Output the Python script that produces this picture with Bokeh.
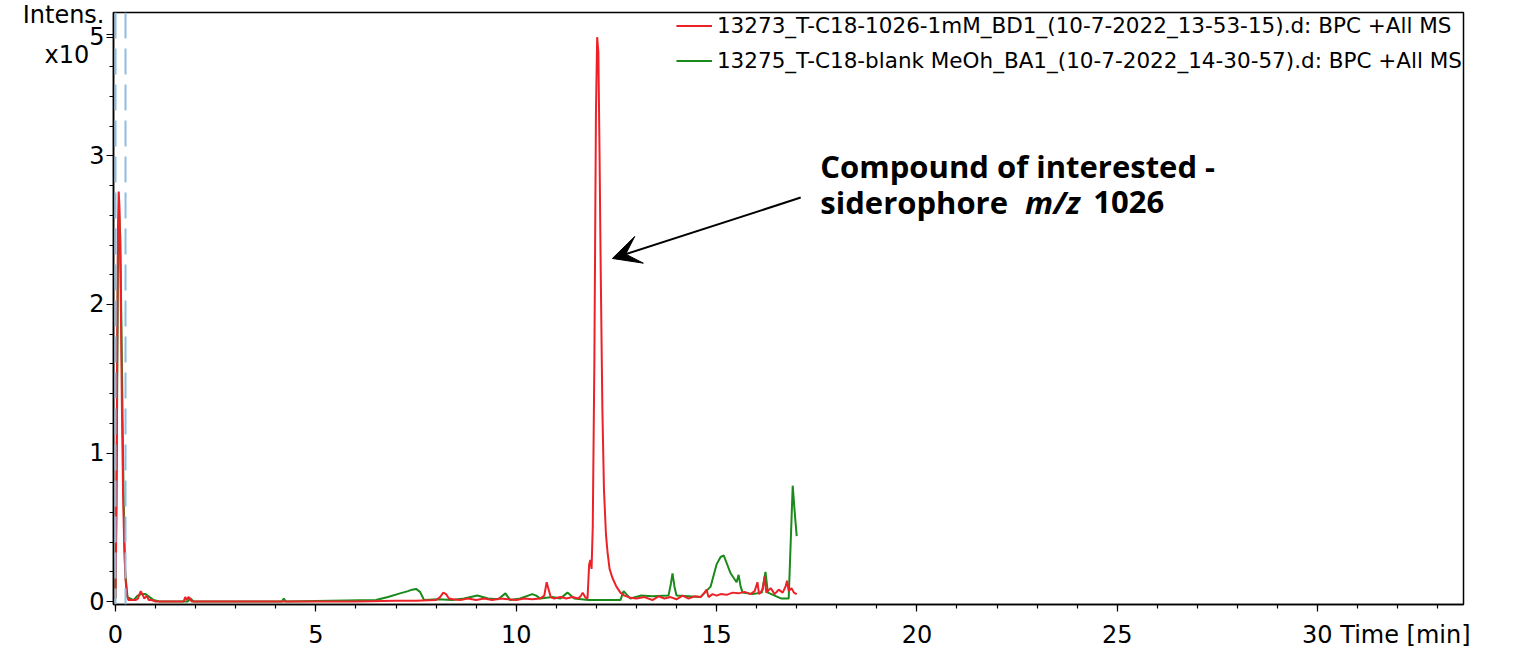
from bokeh.plotting import figure
from bokeh.models import (SingleIntervalTicker, FixedTicker, Label, Arrow, VeeHead, Span)
from bokeh.embed import file_html
from bokeh.resources import INLINE

# ---------------- data (intensity in units of 1e5) ----------------
red_time = [0.00, 0.02, 0.04, 0.06, 0.08, 0.10, 0.13, 0.16, 0.19, 0.22, 0.25, 0.28,
            0.32, 0.40, 0.50, 0.56, 0.60, 0.63, 0.67, 0.72, 0.78, 0.83, 0.90, 1.00,
            1.20, 1.50, 1.70, 1.74, 1.78, 1.82, 1.86, 1.90, 2.00, 3.00, 4.00, 5.00,
            6.00, 7.00, 7.50, 8.00, 8.10, 8.18, 8.25, 8.32, 8.42, 8.60, 8.80, 9.00,
            9.20, 9.40, 9.60, 9.80, 10.00, 10.20, 10.40, 10.60, 10.70, 10.76, 10.80,
            10.86, 10.95, 11.10, 11.25, 11.40, 11.55, 11.62, 11.66, 11.72, 11.78,
            11.82, 11.85, 11.88, 11.91, 11.95, 11.99, 12.02, 12.05, 12.08, 12.11,
            12.15, 12.19, 12.24, 12.28, 12.33, 12.40, 12.50, 12.60, 12.70, 12.85,
            13.00, 13.20, 13.40, 13.55, 13.70, 13.85, 14.00, 14.15, 14.30, 14.45,
            14.60, 14.70, 14.75, 14.80, 14.90, 15.00, 15.10, 15.25, 15.40, 15.55,
            15.70, 15.85, 15.95, 16.02, 16.06, 16.15, 16.20, 16.24, 16.35, 16.45,
            16.55, 16.65, 16.72, 16.76, 16.80, 16.87, 16.93, 17.00]
red_int = [0.02, 0.50, 1.60, 2.50, 2.76, 2.65, 2.10, 1.30, 0.70, 0.35, 0.15, 0.05,
           0.01, 0.01, 0.01, 0.02, 0.05, 0.07, 0.05, 0.02, 0.04, 0.01, 0.01, 0.00,
           0.00, 0.00, 0.00, 0.03, 0.01, 0.03, 0.02, 0.00, 0.00, 0.00, 0.00, 0.00,
           0.00, 0.005, 0.005, 0.01, 0.03, 0.06, 0.05, 0.02, 0.015, 0.01, 0.02, 0.01,
           0.02, 0.01, 0.02, 0.015, 0.01, 0.02, 0.015, 0.02, 0.04, 0.13, 0.09,
           0.03, 0.02, 0.03, 0.02, 0.03, 0.02, 0.04, 0.06, 0.03, 0.02,
           0.25, 0.28, 0.22, 0.50, 1.60, 3.30, 3.80, 3.70, 3.00, 2.20,
           1.30, 0.75, 0.45, 0.33, 0.22, 0.16, 0.10, 0.06, 0.04, 0.025,
           0.02, 0.03, 0.01, 0.035, 0.02, 0.03, 0.015, 0.04, 0.02, 0.035,
           0.03, 0.06, 0.08, 0.03, 0.05, 0.04, 0.05, 0.045, 0.06, 0.055,
           0.065, 0.05, 0.07, 0.13, 0.05, 0.08, 0.17, 0.06, 0.09, 0.05,
           0.08, 0.06, 0.10, 0.14, 0.07, 0.09, 0.06, 0.05]

green_time = [0.00, 0.03, 0.06, 0.09, 0.12, 0.16, 0.20, 0.24, 0.30, 0.45, 0.55, 0.65,
              0.75, 0.85, 0.95, 1.10, 1.80, 1.87, 1.95, 4.15, 4.20, 4.25, 6.50, 6.80,
              7.10, 7.30, 7.40, 7.50, 7.60, 7.70, 8.05, 8.40, 8.70, 9.03, 9.30, 9.55,
              9.73, 9.85, 10.10, 10.40, 10.50, 10.60, 10.90, 11.10, 11.28, 11.45,
              11.80, 12.20, 12.60, 12.68, 12.85, 13.10, 13.40, 13.80, 13.86, 13.90,
              13.95, 14.00, 14.30, 14.60, 14.85, 15.00, 15.10, 15.18, 15.35, 15.50,
              15.55, 15.60, 15.65, 15.90, 16.13, 16.22, 16.28, 16.45, 16.62, 16.80,
              16.85, 16.90, 16.95, 17.00]
green_int = [0.02, 0.90, 2.20, 2.62, 2.45, 1.60, 0.75, 0.20, 0.03, 0.01, 0.04, 0.05,
             0.05, 0.03, 0.01, 0.00, 0.00, 0.02, 0.00, 0.00, 0.02, 0.00, 0.01, 0.03,
             0.055, 0.07, 0.08, 0.085, 0.065, 0.01, 0.015, 0.01, 0.02, 0.04, 0.02, 0.015,
             0.055, 0.01, 0.02, 0.05, 0.04, 0.02, 0.03, 0.02, 0.06, 0.02,
             0.01, 0.01, 0.01, 0.07, 0.02, 0.04, 0.035, 0.04, 0.12, 0.19,
             0.10, 0.04, 0.035, 0.03, 0.10, 0.25, 0.30, 0.31, 0.19, 0.13,
             0.18, 0.10, 0.06, 0.05, 0.06, 0.20, 0.06, 0.04, 0.02, 0.02,
             0.40, 0.78, 0.60, 0.44]

red_label = "13273_T-C18-1026-1mM_BD1_(10-7-2022_13-53-15).d: BPC +All MS"
green_label = "13275_T-C18-blank MeOh_BA1_(10-7-2022_14-30-57).d: BPC +All MS"
marker_times = [0.0, 0.25]

NBSP = "\u00a0"
y_major = [0, 1, 2, 3]
y_minor = [round(0.2 * k, 1) for k in range(1, 20) if k % 5 != 0]
y_title_pos = 3.815           # where "Intens. / x10" sits on the y axis
y_title = "Intens.\nx10" + NBSP * 2
y_exp_pos = 3.80              # where the exponent "5" sits
y_exp = "5"
x_last_tick = 30
x_title = "Time [min]"

RED = "#ec2228"
GREEN = "#1a8a1a"
TICK_FONT = "DejaVu Sans"

p = figure(frame_width=1350, frame_height=592,
           x_range=(-0.05, 33.64), y_range=(-0.02, 3.966),
           output_backend="svg", toolbar_location=None,
           min_border_left=113, min_border_top=12, min_border_right=50,
           min_border_bottom=45)
p.background_fill_color = "white"
p.border_fill_color = "white"
p.outline_line_color = "black"
p.outline_line_width = 1.5
p.outline_line_alpha = 1.0
p.xgrid.visible = False
p.ygrid.visible = False

for t in marker_times:
    p.add_layout(Span(location=t, dimension="height", line_color="#8fbde2",
                      line_dash="26 10", line_width=2))

p.line(green_time, green_int, color=GREEN, line_width=2, legend_label=green_label)
p.line(red_time, red_int, color=RED, line_width=2, legend_label=red_label)

items = p.legend[0].items
p.legend[0].items = [items[1], items[0]]

for ax in (p.xaxis, p.yaxis):
    ax.axis_line_color = "black"
    ax.axis_line_width = 1.5
    ax.major_tick_line_color = "black"
    ax.minor_tick_line_color = "black"
    ax.major_tick_line_width = 1.2
    ax.minor_tick_line_width = 1.2
    ax.major_tick_in = 0
    ax.minor_tick_in = 0
    ax.major_tick_out = 7
    ax.minor_tick_out = 4
    ax.major_label_text_font = TICK_FONT
    ax.major_label_text_font_size = "24px"
    ax.major_label_text_color = "black"

p.xaxis.major_label_standoff = 9
p.yaxis.major_label_standoff = 2
p.yaxis.major_label_text_line_height = 1.4

p.xaxis.ticker = SingleIntervalTicker(interval=5, num_minor_ticks=5)
pad = NBSP * 18
p.xaxis.major_label_overrides = {x_last_tick: pad + str(x_last_tick) + " " + x_title}

p.yaxis.ticker = FixedTicker(ticks=y_major + [y_exp_pos, y_title_pos], minor_ticks=y_minor)
p.yaxis.major_label_overrides = {y_title_pos: y_title, y_exp_pos: y_exp}

lg = p.legend[0]
lg.location = "top_right"
lg.label_text_font = TICK_FONT
lg.label_text_font_size = "21.5px"
lg.label_text_color = "black"
lg.background_fill_alpha = 0
lg.border_line_alpha = 0
lg.glyph_width = 36
lg.glyph_height = 21
lg.label_height = 21
lg.label_standoff = 5
lg.spacing = 10
lg.padding = 0
lg.margin = 1

# annotation
ANN_FONT = "Open Sans"
ANN_SIZE = "31px"
p.add_layout(Label(x=17.59, y=2.93, text="Compound of interested -",
                   text_baseline="alphabetic", text_font=ANN_FONT,
                   text_font_style="bold", text_font_size=ANN_SIZE, text_color="black"))
p.add_layout(Label(x=17.59, y=2.69, text="siderophore",
                   text_baseline="alphabetic", text_font=ANN_FONT,
                   text_font_style="bold", text_font_size=ANN_SIZE, text_color="black"))
p.add_layout(Label(x=22.70, y=2.69, text="m/z",
                   text_baseline="alphabetic", text_font=ANN_FONT,
                   text_font_style="bold italic", text_font_size=ANN_SIZE, text_color="black"))
p.add_layout(Label(x=24.40, y=2.69, text="1026",
                   text_baseline="alphabetic", text_font=ANN_FONT,
                   text_font_style="bold", text_font_size=ANN_SIZE, text_color="black"))
p.add_layout(Arrow(end=VeeHead(size=28, fill_color="black", line_color="black"),
                   x_start=17.10, y_start=2.72, x_end=12.40, y_end=2.31,
                   line_width=2, line_color="black"))

open("out.html", "w").write(file_html(p, INLINE))
